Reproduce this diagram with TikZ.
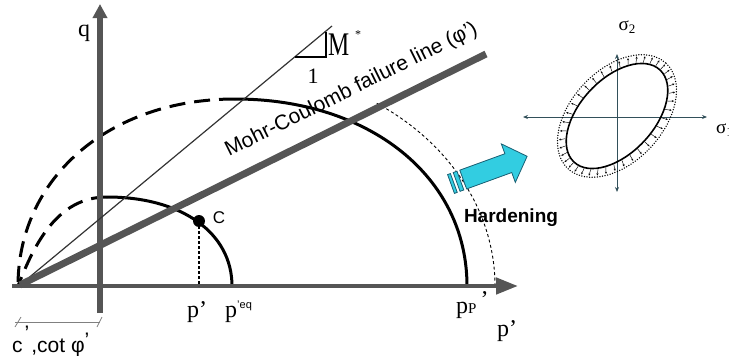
\documentclass[tikz,border=0pt]{standalone}
\usepackage{fontspec}
\setmainfont{Liberation Serif}
\setsansfont{Liberation Sans}
\usetikzlibrary{arrows.meta}
\definecolor{axgray}{RGB}{85,85,85}
\definecolor{cyanfill}{RGB}{50,205,225}
\definecolor{cyanline}{RGB}{25,95,115}
\definecolor{slate}{RGB}{50,80,90}
\begin{document}
\begin{tikzpicture}[x=1pt,y=-1pt,
  axis/.style={axgray},
  thickcurve/.style={black,line width=3pt},
  dcurve/.style={thickcurve,dash pattern=on 16pt off 9pt},
  serifl/.style={font=\rmfamily\fontsize{24}{26}\selectfont,inner sep=0pt},
  sansl/.style={font=\sffamily\fontsize{21}{24}\selectfont,inner sep=0pt},
  harrow/.style={fill=cyanfill,draw=cyanline,line width=0.8pt},
  smallax/.style={slate,line width=0.8pt,{Stealth[length=5pt,width=4pt]}-{Stealth[length=5pt,width=4pt]}},
  tinyarrow/.style={black,line width=0.45pt,-{Stealth[length=2.2pt,width=2pt]}}
]
\useasboundingbox (0,0) rectangle (729,356);

% curves
\draw[dcurve] (235,99) .. controls (109,99) and (18,178) .. (18,286);
\draw[thickcurve] (235,99) .. controls (370,99) and (467,177) .. (467,286);
\draw[dcurve] (107,197) .. controls (57,197) and (34,245) .. (18,286);
\draw[thickcurve] (107,197) .. controls (182,197) and (232,233) .. (232,286);
\draw[black,line width=0.9pt,dash pattern=on 3pt off 2.5pt] (495,286) arc[start angle=0,end angle=-57,x radius=260,y radius=218];

% axes
\draw[axis,line width=4.5pt,-{Triangle[length=22pt,width=16pt]}] (12,286) -- (518,286);
\draw[axis,line width=6pt,-{Triangle[length=14pt,width=14pt]}] (100,313) -- (100,4);

% M line and triangle
\draw[black!80,line width=1.2pt] (20,285) -- (332,26);
\draw[black,line width=1.4pt] (295,57) -- (326,57) -- (326,32);
\node[serifl,anchor=base west] (M) at (328,56) {\fontsize{33}{34}\selectfont\scalebox{0.72}[1]{M}};
\node[font=\rmfamily\fontsize{12}{12}\selectfont,inner sep=0pt] (star) at (358,35) {*};
\node[serifl,font=\rmfamily\fontsize{22}{24}\selectfont] (one) at (313,76) {1};

% Mohr-Coulomb line
\draw[axis,line width=7pt] (20,285) -- (486,54);
\node[sansl,rotate=26.4,anchor=base west] (mc) at (229,157) {Mohr-Coulomb failure line (φ’)};

% point C
\draw[black,line width=1.5pt,dash pattern=on 3pt off 2pt] (199,221) -- (199,286);
\fill[black] (199,221) circle[radius=6];
\node[font=\sffamily\fontsize{17}{18}\selectfont,inner sep=0pt] (C) at (219,218) {C};

% labels
\node[serifl,anchor=base] (q) at (84,36) {q};
\node[serifl,anchor=base west] (p1) at (187,317) {p’};
\node[serifl,anchor=base west] (peq) at (225,317) {p\raisebox{9pt}{\sffamily\fontsize{11}{11}\selectfont ’eq}};
\node[serifl,anchor=base west] (pp) at (456,313) {p{\fontsize{15}{15}\selectfont P}\hspace{4pt}\raisebox{6pt}{’}};
\node[serifl,anchor=base west] (p2) at (497,336) {p’};

% c' cot phi'
\draw[gray,line width=0.8pt] (15,322) -- (100,322);
\draw[gray,line width=0.8pt] (15,327) -- (21,317);
\draw[gray,line width=0.8pt] (97,327) -- (102,317);
\node[sansl,anchor=base west] (ccot) at (12,352) {c\hspace{2pt}\raisebox{12pt}{’}\hspace{2pt},cot φ\raisebox{5pt}{’}};

% hardening arrow
\begin{scope}[shift={(451,184)},rotate=20]
  \filldraw[harrow] (0,-10) rectangle (3,10);
  \filldraw[harrow] (6,-10) rectangle (10,10);
  \filldraw[harrow] (13,-10) -- (61,-10) -- (61,-20.5) -- (81,0) -- (61,20.5) -- (61,10) -- (13,10) -- cycle;
\end{scope}
\node[font=\sffamily\bfseries\fontsize{19}{20}\selectfont,inner sep=0pt,anchor=base] (hard) at (511,222) {Hardening};

% right figure
\draw[smallax] (523,117) -- (707,117);
\draw[smallax] (617,192) -- (617,54);
\begin{scope}[shift={(617,116)},rotate=47]
  \draw[black,line width=1.6pt] (0,0) ellipse[x radius=63,y radius=37];
  \draw[black,line width=1.5pt,dash pattern=on 0pt off 2.6pt,line cap=round] (0,0) ellipse[x radius=72,y radius=46];
  \foreach \t in {0,9,...,351}{
    \draw[tinyarrow] ({64*cos(\t)},{38*sin(\t)}) -- ({70.5*cos(\t)},{44.5*sin(\t)});
  }
\end{scope}
\node[font=\rmfamily\fontsize{19}{20}\selectfont,inner sep=0pt] (s2) at (627,27) {σ\raisebox{-3pt}{\fontsize{13}{13}\selectfont 2}};
\node[font=\rmfamily\fontsize{19}{20}\selectfont,inner sep=0pt,anchor=west] (s1) at (716,130) {σ\raisebox{-3pt}{\fontsize{13}{13}\selectfont 1}};
\end{tikzpicture}
\end{document}
